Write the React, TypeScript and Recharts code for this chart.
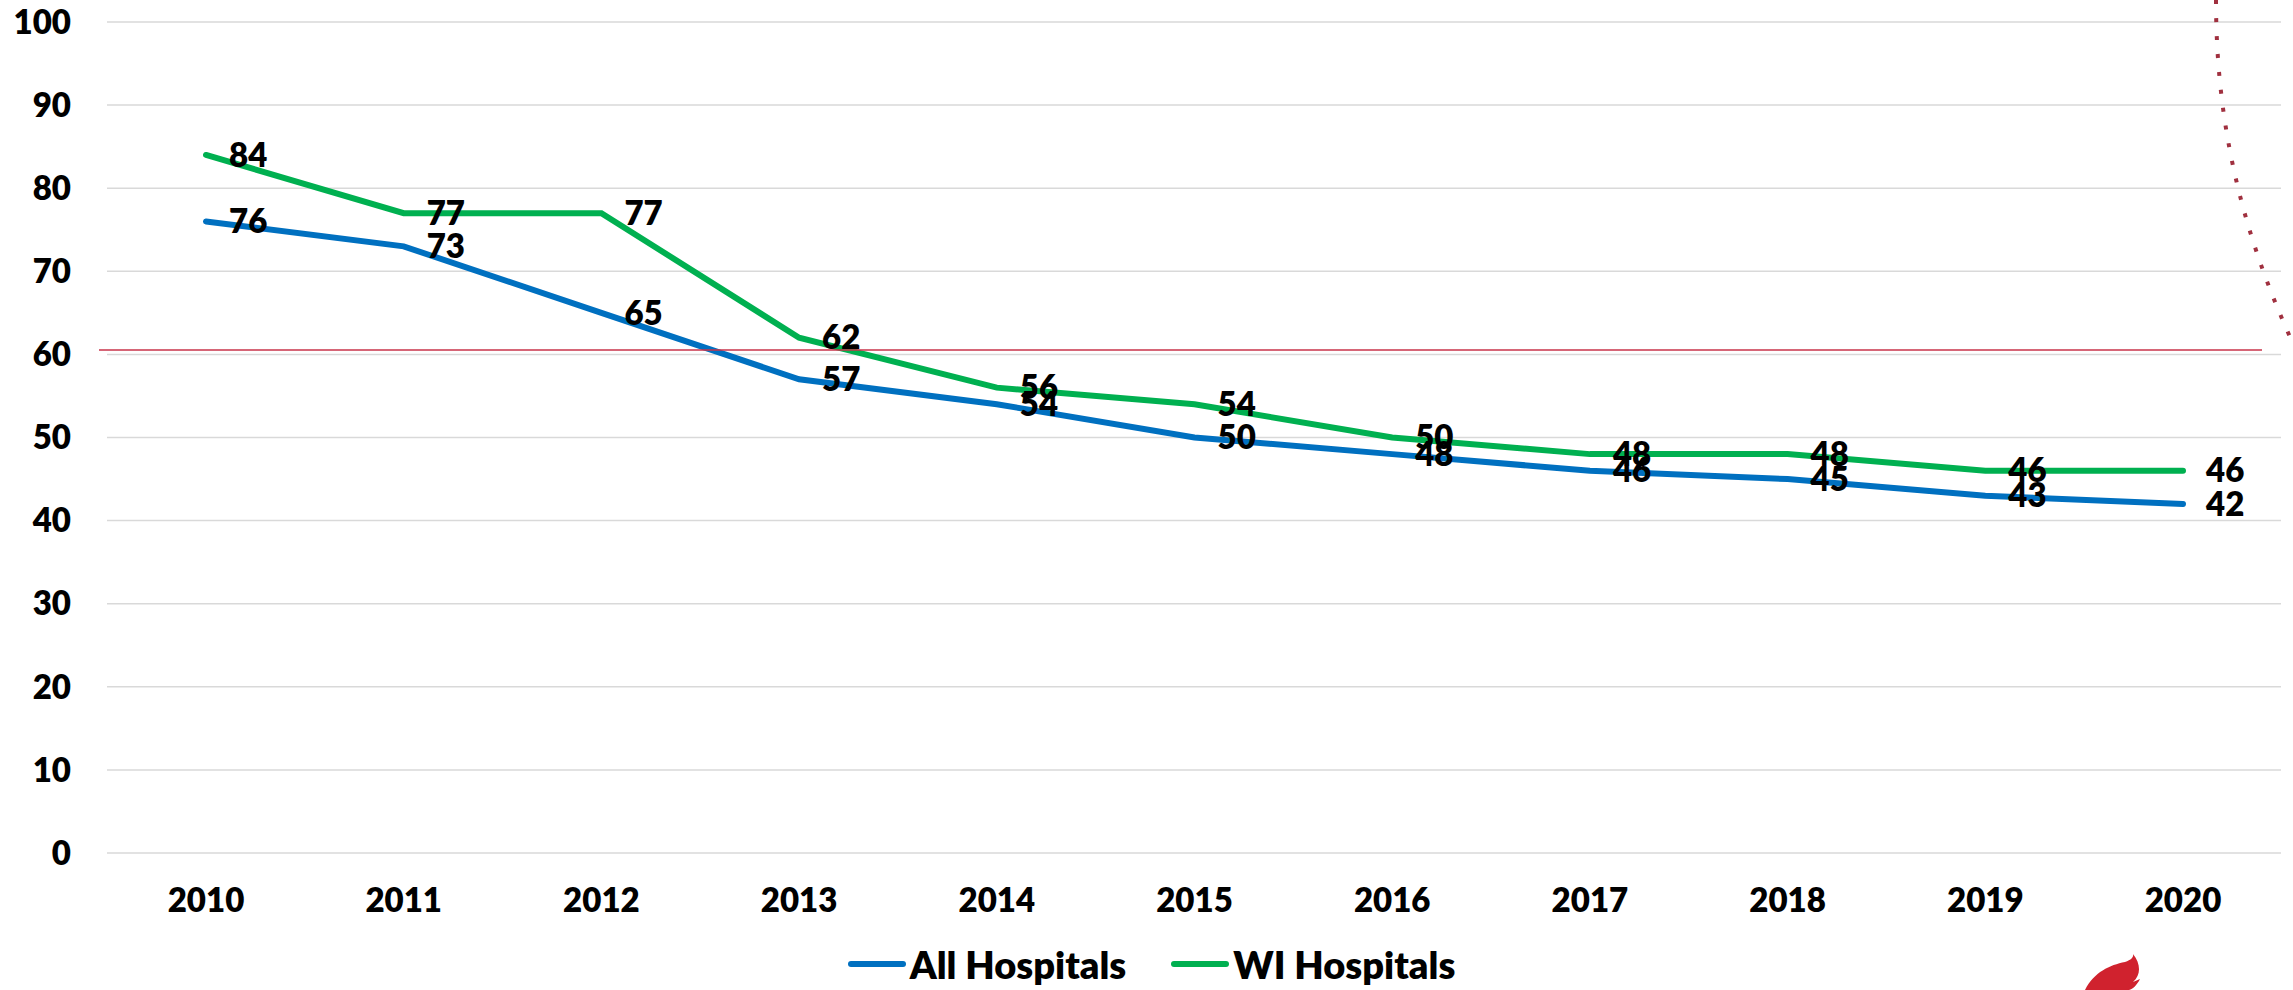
import React from 'react';
import { LineChart, Line, XAxis, YAxis, CartesianGrid, Legend, LabelList } from 'recharts';

const years = ['2010', '2011', '2012', '2013', '2014', '2015', '2016', '2017', '2018', '2019', '2020'];
const allHospitals = [76, 73, 65, 57, 54, 50, 48, 46, 45, 43, 42];
const wiHospitals = [84, 77, 77, 62, 56, 54, 50, 48, 48, 46, 46];
const yTicks = [0, 10, 20, 30, 40, 50, 60, 70, 80, 90, 100];

const data = years.map((year, i) => ({ year, all: allHospitals[i], wi: wiHospitals[i] }));

const FONT = 'Lato, "Noto Sans", sans-serif';
const BLUE = '#0070C0';
const GREEN = '#00B050';

const legendItems = [
  { name: 'All Hospitals', color: BLUE },
  { name: 'WI Hospitals', color: GREEN },
];

function ChartLegend() {
  return (
    <div
      style={{
        display: 'flex',
        justifyContent: 'center',
        alignItems: 'center',
        height: 40,
        paddingLeft: 22,
        fontFamily: FONT,
        fontWeight: 800,
        fontSize: 38,
        color: '#000',
      }}
    >
      {legendItems.map((item, i) => (
        <div key={item.name} style={{ display: 'flex', alignItems: 'center', marginLeft: i ? 45 : 0 }}>
          <svg width={58} height={10} style={{ marginRight: 4 }}>
            <line x1={3} y1={5} x2={55} y2={5} stroke={item.color} strokeWidth={6} strokeLinecap="round" />
          </svg>
          <span>{item.name}</span>
        </div>
      ))}
    </div>
  );
}

export default function App() {
  const tickStyle = { fontFamily: FONT, fontWeight: 800, fontSize: 33, fill: '#000' };
  const labelStyle = { fontFamily: FONT, fontWeight: 800, fontSize: 33, fill: '#000' };
  return (
    <div style={{ position: 'absolute', left: 0, top: 0, width: 2293, height: 990, background: '#fff' }}>
      <LineChart width={2293} height={990} data={data} margin={{ top: 22, right: 12, bottom: 6, left: 0 }}>
        <CartesianGrid vertical={false} stroke="#D9D9D9" strokeWidth={1.5} />
        <XAxis
          dataKey="year"
          axisLine={false}
          tickLine={false}
          tickSize={0}
          tickMargin={36}
          height={91}
          interval={0}
          padding={{ left: 99, right: 98 }}
          tick={tickStyle}
        />
        <YAxis
          domain={[0, 100]}
          ticks={yTicks}
          axisLine={false}
          tickLine={false}
          tickSize={0}
          tickMargin={36}
          width={107}
          tick={tickStyle}
        />
        <Legend verticalAlign="bottom" content={() => <ChartLegend />} />
        <Line
          type="linear"
          dataKey="all"
          name="All Hospitals"
          stroke={BLUE}
          strokeWidth={6}
          strokeLinecap="round"
          dot={false}
          isAnimationActive={false}
        >
          <LabelList dataKey="all" position="right" offset={23} style={labelStyle} />
        </Line>
        <Line
          type="linear"
          dataKey="wi"
          name="WI Hospitals"
          stroke={GREEN}
          strokeWidth={6}
          strokeLinecap="round"
          dot={false}
          isAnimationActive={false}
        >
          <LabelList dataKey="wi" position="right" offset={23} style={labelStyle} />
        </Line>
      </LineChart>
      {/* slide decorations */}
      <svg
        width={2293}
        height={990}
        style={{ position: 'absolute', left: 0, top: 0, pointerEvents: 'none' }}
      >
        <line x1={99} y1={350} x2={2262} y2={350} stroke="#C8334A" strokeWidth={1.5} />
        <path
          d="M2216,0 C2216,120 2240,230 2296,350"
          fill="none"
          stroke="#A0303F"
          strokeWidth={4}
          strokeDasharray="4 14"
        />
        <path
          d="M2085,990 C2094,972 2110,965 2125,962 C2131,960 2134,957 2133,954 C2141,964 2141,975 2133,982 L2140,979 C2137,985 2133,989 2129,990 Z"
          fill="#D0222E"
        />
      </svg>
    </div>
  );
}
